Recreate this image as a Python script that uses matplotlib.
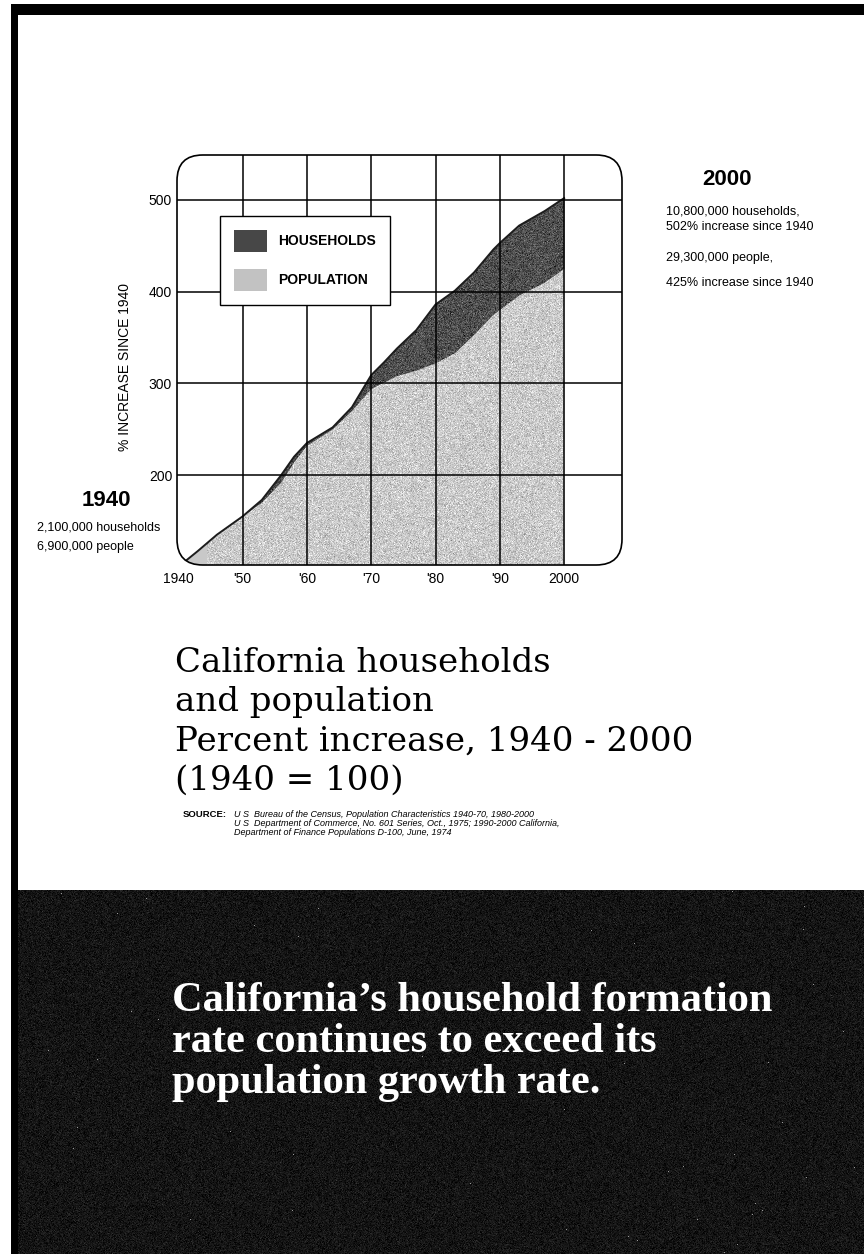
import numpy as np
import matplotlib
matplotlib.use("Agg")
import matplotlib.pyplot as plt
from matplotlib.patches import FancyBboxPatch, Rectangle, Patch

W, H = 864, 1254

# percent of 1940 level (1940 = 100)
years = [1940, 1943, 1946, 1950, 1953, 1956, 1958, 1960, 1964, 1967, 1970,
         1972, 1974, 1977, 1980, 1983, 1986, 1989, 1990, 1993, 1997, 2000]
households = [100, 117, 135, 155, 173, 200, 220, 235, 252, 274, 309,
              323, 338, 358, 386, 401, 421, 446, 453, 472, 488, 502]
population = [100, 117, 135, 155, 170, 192, 214, 232, 250, 270, 294,
              301, 308, 314, 322, 333, 353, 375, 380, 396, 410, 425]

x_ticks = [1940, 1950, 1960, 1970, 1980, 1990, 2000]
x_labels = ["1940", "'50", "'60", "'70", "'80", "'90", "2000"]
y_ticks = [200, 300, 400, 500]

title_lines = ["California households", "and population",
               "Percent increase, 1940 - 2000", "(1940 = 100)"]
source_lines = ["U S  Bureau of the Census, Population Characteristics 1940-70, 1980-2000",
                "U S  Department of Commerce, No. 601 Series, Oct., 1975; 1990-2000 California,",
                "Department of Finance Populations D-100, June, 1974"]
headline = ["California\u2019s household formation",
            "rate continues to exceed its",
            "population growth rate."]

SANS = "Liberation Sans"
rng = np.random.default_rng(3)


def fp(x, y):
    # pixel position -> figure fraction
    return x / W, 1 - y / H


fig = plt.figure(figsize=(W / 100, H / 100), dpi=100, facecolor="white")

# page border and dark bottom panel
bg = fig.add_axes([0, 0, 1, 1], zorder=-5)
bg.axis("off")
grain = np.clip(0.08 + 0.04 * rng.standard_normal((364, 853)), 0, 1)
specks = rng.random(grain.shape) > 0.99985
grain[specks] = 0.6
bg.imshow(grain, cmap="gray", vmin=0, vmax=1, extent=[11, W, H, 890],
          interpolation="nearest", aspect="auto")
bg.add_patch(Rectangle((11, 4), W - 11, 11, color="black", lw=0))
bg.add_patch(Rectangle((11, 4), 7, H, color="black", lw=0))
bg.set_xlim(0, W)
bg.set_ylim(H, 0)

# chart
ax = fig.add_axes([177 / W, 1 - 565 / H, 445 / W, 410 / H])
ax.patch.set_visible(False)
for s in ax.spines.values():
    s.set_visible(False)

frame = FancyBboxPatch((0, 0), 1, 1, boxstyle="round,pad=0,rounding_size=0.058",
                       mutation_aspect=445 / 410, transform=ax.transAxes,
                       facecolor="none", edgecolor="black", lw=1.2,
                       zorder=6, clip_on=False)
ax.add_patch(frame)

pop_fill = ax.fill_between(years, 95, population, color="#c8c8c8", lw=0, zorder=1)
hh_fill = ax.fill_between(years, population, households, color="#4e4e4e", lw=0, zorder=1)
pop_fill.set_clip_path(frame)
hh_fill.set_clip_path(frame)

# stippled print texture over each area
tex_pop = np.clip(0.79 + 0.075 * rng.standard_normal((450, 420)), 0, 1)
im1 = ax.imshow(tex_pop, cmap="gray", vmin=0, vmax=1, extent=[1944.5, 2000, 95, 550],
                aspect="auto", interpolation="nearest", zorder=1.5)
im1.set_clip_path(pop_fill.get_paths()[0], ax.transData)
tex_hh = np.clip(0.31 + 0.08 * rng.standard_normal((450, 420)), 0, 1)
im2 = ax.imshow(tex_hh, cmap="gray", vmin=0, vmax=1, extent=[1944.5, 2000, 95, 550],
                aspect="auto", interpolation="nearest", zorder=1.5)
im2.set_clip_path(hh_fill.get_paths()[0], ax.transData)
ax.set_xlim(1939.8, 2009.0)
ax.set_ylim(102, 549)

edge, = ax.plot(years, households, color="#1c1c1c", lw=1.4, zorder=2)
edge.set_clip_path(frame)

for xv in x_ticks[1:]:
    ln = ax.axvline(xv, color="black", lw=1.1, zorder=3)
    ln.set_clip_path(frame)
for yv in y_ticks:
    ln = ax.axhline(yv, color="black", lw=1.1, zorder=3)
    ln.set_clip_path(frame)

ax.set_xticks(x_ticks)
ax.set_xticklabels(x_labels)
ax.set_yticks(y_ticks)
ax.tick_params(length=0, labelsize=10, colors="black")
ax.tick_params(axis="x", pad=5)
ax.tick_params(axis="y", pad=3.5)
for t in ax.get_xticklabels() + ax.get_yticklabels():
    t.set_fontfamily(SANS)

handles = [Patch(facecolor="#474747", edgecolor="none", label="HOUSEHOLDS"),
           Patch(facecolor="#c2c2c2", edgecolor="none", label="POPULATION")]
leg = ax.legend(handles=handles, loc="upper left",
                bbox_to_anchor=((220 - 177) / 445, (565 - 216) / 410),
                borderaxespad=0, fancybox=False, framealpha=1,
                edgecolor="black", handlelength=2.35, handleheight=2.1,
                borderpad=1.0, labelspacing=1.2, handletextpad=0.85,
                prop={"family": SANS, "weight": "bold", "size": 10})
leg.get_frame().set_linewidth(1.0)
leg.set_zorder(7)

fig.text(*fp(125, 367), "% INCREASE SINCE 1940", rotation=90, ha="center",
         va="center", fontsize=10, family=SANS)

# side notes
fig.text(*fp(82, 506), "1940", fontsize=16, weight="bold", family=SANS)
fig.text(*fp(37, 531), "2,100,000 households", fontsize=9, family=SANS)
fig.text(*fp(37, 550), "6,900,000 people", fontsize=9, family=SANS)

fig.text(*fp(702, 185), "2000", fontsize=16, weight="bold", family=SANS)
notes = ["10,800,000 households,", "502% increase since 1940",
         "29,300,000 people,", "425% increase since 1940"]
for txt, yb in zip(notes, [214, 230, 261, 286]):
    fig.text(*fp(666, yb), txt, fontsize=9, family=SANS)

for txt, yb in zip(title_lines, [672, 711, 751, 790]):
    fig.text(*fp(175, yb), txt, fontsize=24.5, family="DejaVu Serif",
             va="baseline")

fig.text(*fp(183, 817), "SOURCE:", fontsize=6.8, weight="bold", family=SANS,
         va="baseline")
for txt, yb in zip(source_lines, [817, 826, 835]):
    fig.text(*fp(234, yb), txt, fontsize=6.5, style="italic", family=SANS,
             va="baseline")

for txt, yb in zip(headline, [1011, 1052, 1093]):
    fig.text(*fp(172, yb), txt, fontsize=30.5, weight="bold", color="white",
             family="Liberation Serif", va="baseline")

fig.savefig("out.png", dpi=100, facecolor="white")
